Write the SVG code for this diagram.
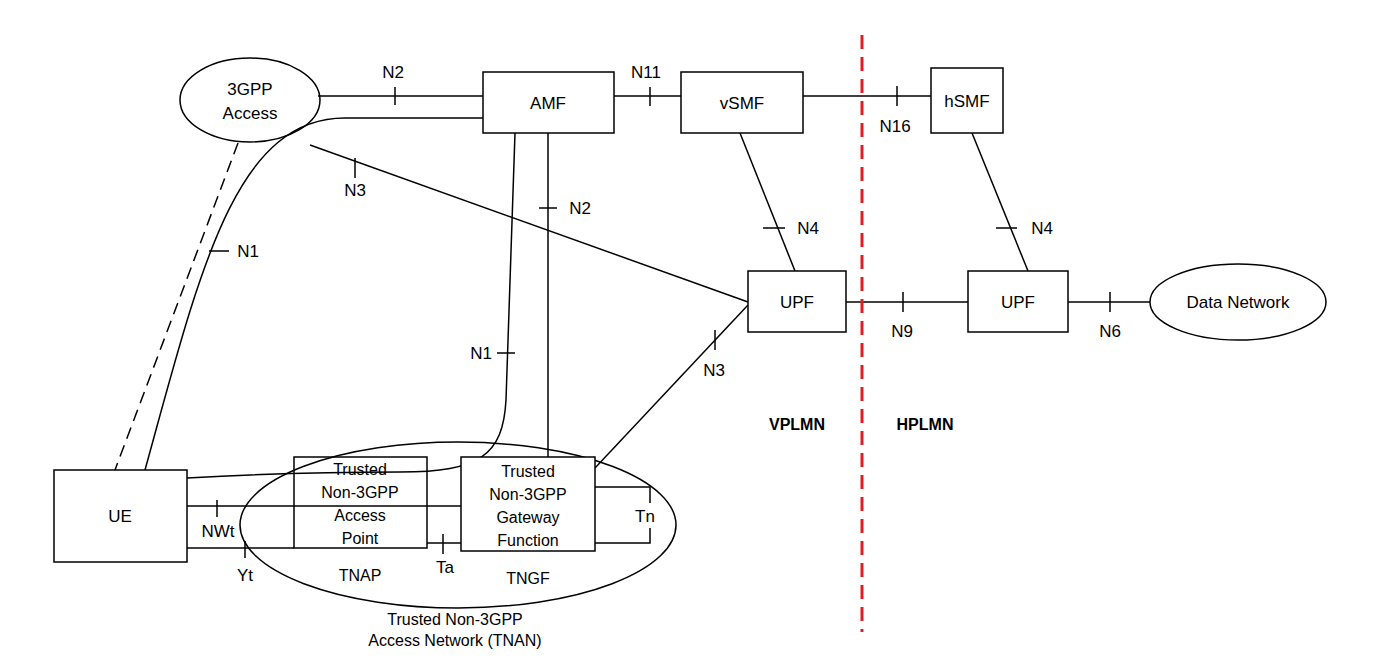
<svg xmlns="http://www.w3.org/2000/svg" width="1384" height="672" viewBox="0 0 1384 672">
<style>
text{font-family:"Liberation Sans",Arial,sans-serif;font-size:17px;fill:#000;text-anchor:middle}
.s{font-size:17px}
.t{font-size:16px}
.b{font-weight:bold;font-size:16px}
.n{fill:#fff;stroke:#000;stroke-width:1.5}
#connectors path,#connectors line{fill:none;stroke:#000;stroke-width:1.5}
</style>
<rect width="1384" height="672" fill="#fff"/>
<g id="tnan"><ellipse cx="458" cy="525" rx="218" ry="83" class="n" style="fill:none"/>
<text class="t" x="455" y="625">Trusted Non-3GPP</text><text class="t" x="455" y="646">Access Network (TNAN)</text></g>
<g id="connectors">
<line x1="318" y1="96" x2="483" y2="96"/><line x1="395" y1="87" x2="395" y2="105"/>
<path d="M145,470 C200,270 235,118 345,118 L483,118"/>
<path d="M238,143 L115,470" stroke-dasharray="12,7"/>
<line x1="209" y1="251" x2="229" y2="251"/>
<line x1="310" y1="145" x2="748" y2="302"/><line x1="355" y1="158" x2="355" y2="178"/>
<line x1="548" y1="133" x2="548" y2="457"/><line x1="539" y1="208" x2="557" y2="208"/>
<path d="M515,133 L506,400 C503,455 480,472 400,472 C330,472 260,474 187,478"/>
<line x1="497" y1="353" x2="515" y2="353"/>
<line x1="187" y1="506" x2="461" y2="506"/><line x1="217" y1="500" x2="217" y2="517"/>
<line x1="187" y1="548" x2="294" y2="548"/><line x1="245" y1="541" x2="245" y2="558"/>
<line x1="427" y1="543" x2="461" y2="543"/><line x1="443" y1="534" x2="443" y2="554"/>
<path d="M595,487 L650,487 L650,503 M650,528 L650,543 L595,543"/>
<line x1="595" y1="468" x2="748" y2="305"/><line x1="715" y1="330" x2="715" y2="350"/>
<line x1="614" y1="96" x2="681" y2="96"/><line x1="650" y1="87" x2="650" y2="106"/>
<line x1="803" y1="96" x2="931" y2="96"/><line x1="897" y1="86" x2="897" y2="106"/>
<line x1="740" y1="133" x2="795" y2="271"/><line x1="763" y1="228" x2="785" y2="228"/>
<line x1="972" y1="133" x2="1028" y2="271"/><line x1="996" y1="228" x2="1017" y2="228"/>
<line x1="846" y1="302" x2="968" y2="302"/><line x1="903" y1="292" x2="903" y2="312"/>
<line x1="1068" y1="302" x2="1150" y2="302"/><line x1="1110" y1="292" x2="1110" y2="312"/>
</g>
<g id="labels">
<text x="393" y="78">N2</text><text x="248" y="257">N1</text><text x="355" y="196">N3</text>
<text x="580" y="214">N2</text><text x="481" y="359">N1</text><text x="218" y="537">NWt</text>
<text x="245" y="581">Yt</text><text x="445" y="573">Ta</text><text x="645" y="522">Tn</text>
<text x="714" y="376">N3</text><text x="646" y="78">N11</text><text x="895" y="132">N16</text>
<text x="808" y="234">N4</text><text x="1042" y="234">N4</text><text x="902" y="337">N9</text><text x="1110" y="337">N6</text>
<text class="t" x="360" y="581">TNAP</text><text class="t" x="528" y="584">TNGF</text>
<text class="b" x="797" y="430">VPLMN</text><text class="b" x="925" y="430">HPLMN</text>
</g>
<line x1="862" y1="35" x2="862" y2="632" stroke="#e02020" stroke-width="3" stroke-dasharray="14,8"/>
<g id="access3gpp"><ellipse cx="250" cy="100" rx="70" ry="42" class="n" style="fill:none"/><text class="s" x="250" y="95">3GPP</text><text class="s" x="250" y="119">Access</text></g>
<g id="amf"><rect x="483" y="72" width="131" height="61" class="n"/><text class="s" x="548" y="109">AMF</text></g>
<g id="vsmf"><rect x="681" y="72" width="122" height="61" class="n"/><text class="s" x="742" y="109">vSMF</text></g>
<g id="hsmf"><rect x="931" y="68" width="72" height="65" class="n"/><text class="s" x="967" y="107">hSMF</text></g>
<g id="vupf"><rect x="748" y="271" width="98" height="61" class="n"/><text class="s" x="797" y="308">UPF</text></g>
<g id="hupf"><rect x="968" y="271" width="100" height="61" class="n"/><text class="s" x="1018" y="308">UPF</text></g>
<g id="dn"><ellipse cx="1238" cy="302" rx="88" ry="38" class="n"/><text class="s" x="1238" y="308">Data Network</text></g>
<g id="ue"><rect x="54" y="470" width="133" height="92" class="n"/><text class="s" x="120" y="522">UE</text></g>
<g id="tnap"><rect x="294" y="457" width="133" height="91" class="n" style="fill:none"/><text class="t" x="360" y="475">Trusted</text><text class="t" x="360" y="498">Non-3GPP</text><text class="t" x="360" y="521">Access</text><text class="t" x="360" y="544">Point</text></g>
<g id="tngf"><rect x="461" y="457" width="134" height="94" class="n"/><text class="t" x="528" y="477">Trusted</text><text class="t" x="528" y="500">Non-3GPP</text><text class="t" x="528" y="523">Gateway</text><text class="t" x="528" y="546">Function</text></g>
</svg>
